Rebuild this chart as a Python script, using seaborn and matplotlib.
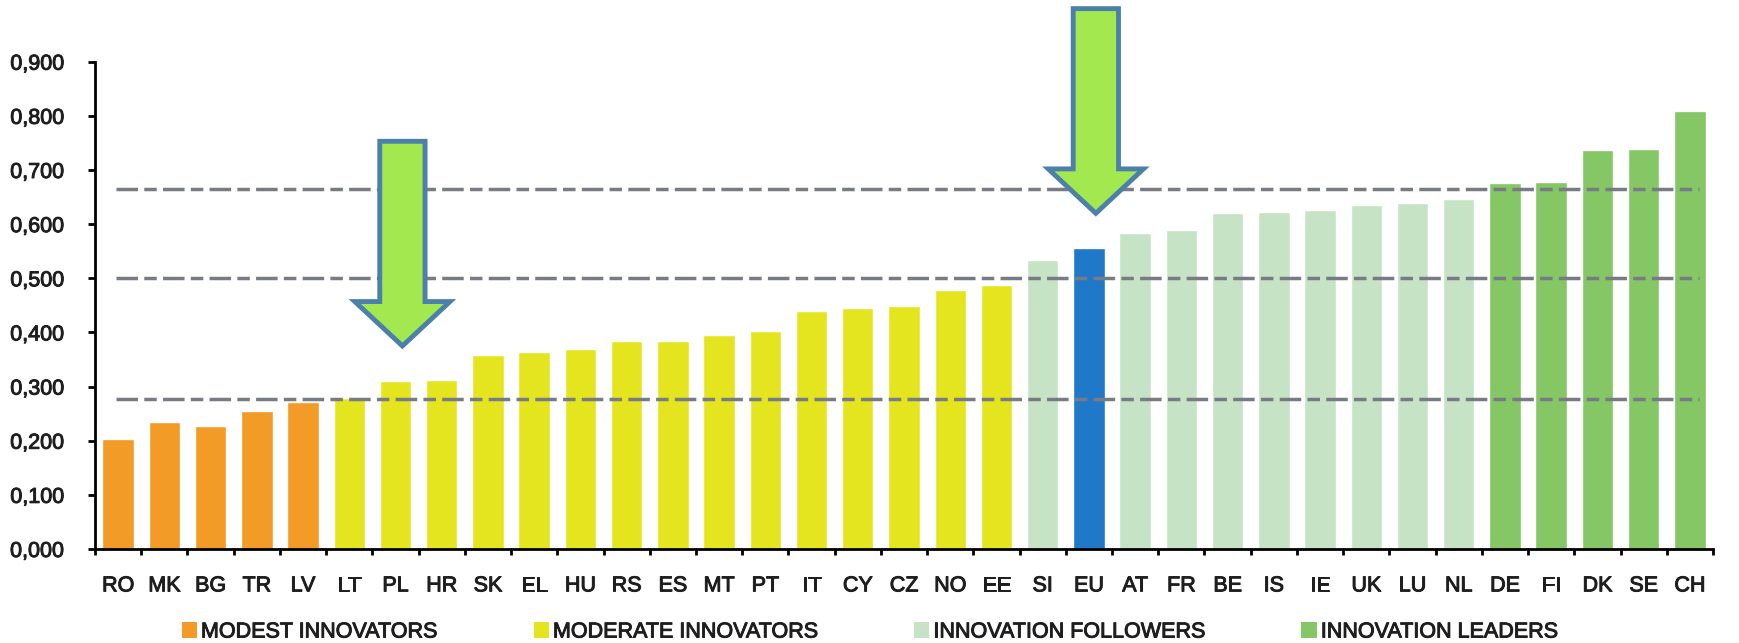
import numpy as np
import pandas as pd
import matplotlib
matplotlib.use('Agg')
import matplotlib.pyplot as plt
import matplotlib.patheffects as pe
import seaborn as sns
from matplotlib.patches import Patch, Polygon
from matplotlib.ticker import FuncFormatter, FixedLocator

# data
countries = ['RO', 'MK', 'BG', 'TR', 'LV', 'LT', 'PL', 'HR', 'SK', 'EL', 'HU', 'RS',
             'ES', 'MT', 'PT', 'IT', 'CY', 'CZ', 'NO', 'EE', 'SI', 'EU', 'AT', 'FR',
             'BE', 'IS', 'IE', 'UK', 'LU', 'NL', 'DE', 'FI', 'DK', 'SE', 'CH']
scores = [0.204, 0.234, 0.227, 0.255, 0.272, 0.279, 0.310, 0.312, 0.358, 0.363, 0.369, 0.384,
          0.384, 0.396, 0.402, 0.439, 0.445, 0.448, 0.478, 0.488, 0.533, 0.555, 0.584, 0.590,
          0.620, 0.622, 0.627, 0.636, 0.639, 0.647, 0.676, 0.678, 0.736, 0.739, 0.809]
groups = (['MODEST INNOVATORS'] * 5 + ['MODERATE INNOVATORS'] * 15 +
          ['INNOVATION FOLLOWERS'] + ['EU'] + ['INNOVATION FOLLOWERS'] * 8 +
          ['INNOVATION LEADERS'] * 5)
thresholds = [0.277, 0.500, 0.665]
arrow_targets = ['PL', 'EU']

palette = {'MODEST INNOVATORS': '#f29b27',
           'MODERATE INNOVATORS': '#e5e51f',
           'INNOVATION FOLLOWERS': '#c7e3c6',
           'EU': '#1f78c8',
           'INNOVATION LEADERS': '#84c764'}
legend_order = ['MODEST INNOVATORS', 'MODERATE INNOVATORS',
                'INNOVATION FOLLOWERS', 'INNOVATION LEADERS']

df = pd.DataFrame({'country': countries, 'score': scores, 'group': groups})

sns.set_theme(style='white')
plt.rcParams['font.family'] = ['Liberation Sans', 'DejaVu Sans']
plt.rcParams['lines.scale_dashes'] = False
txt_col = '#1e1e1e'
heavy = [pe.withStroke(linewidth=0.7, foreground=txt_col)]

fig = plt.figure(figsize=(17.39, 6.43), dpi=100)
ax = fig.add_axes([95 / 1739, 94 / 643, 1618 / 1739, 487.3 / 643])

sns.barplot(data=df, x='country', y='score', hue='group', palette=palette,
            order=countries, dodge=False, width=0.68, legend=False,
            saturation=1, ax=ax)

# threshold lines
for t in thresholds:
    ax.plot([-0.05, 34.2], [t, t], color='#777b84', lw=2.5,
            ls=(0, (15.5, 4.5, 9, 4.5)), zorder=3, solid_capstyle='butt')

ax.set_xlim(-0.5, 34.5)
ax.set_ylim(0, 0.9)
ax.set_yticks(np.arange(0, 0.901, 0.1))
ax.yaxis.set_major_formatter(FuncFormatter(lambda v, p: f'{v:.3f}'.replace('.', ',')))
ax.set_xlabel('')
ax.set_ylabel('')

for s in ['top', 'right']:
    ax.spines[s].set_visible(False)
for s in ['left', 'bottom']:
    ax.spines[s].set_color('black')
    ax.spines[s].set_linewidth(2)

ax.tick_params(axis='y', direction='out', length=5, width=2, color='black',
               labelsize=15.5, labelcolor=txt_col, pad=17, left=True)
ax.tick_params(axis='x', which='major', length=0, labelsize=15.5,
               labelcolor=txt_col, pad=19)
ax.xaxis.set_minor_locator(FixedLocator(np.arange(-0.5, 35, 1)))
ax.tick_params(axis='x', which='minor', direction='out', length=4, width=2,
               color='black', bottom=True)
for lab in ax.get_xticklabels() + ax.get_yticklabels():
    lab.set_path_effects(heavy)

# arrows pointing at PL and EU
for c in arrow_targets:
    i = countries.index(c)
    xc = i + 0.15
    tip = scores[i] + 0.065
    top = tip + 0.378
    neck = tip + 0.082
    sw, hw = 0.49, 1.03
    pts = [(xc - sw, top), (xc + sw, top), (xc + sw, neck), (xc + hw, neck),
           (xc, tip), (xc - hw, neck), (xc - sw, neck)]
    ax.add_patch(Polygon(pts, closed=True, facecolor='#a3e84f', edgecolor='#4a80aa',
                         lw=3.5, joinstyle='miter', clip_on=False, zorder=5))

handles = [Patch(facecolor=palette[g], edgecolor='none', label=g) for g in legend_order]
leg = fig.legend(handles=handles, loc='center', bbox_to_anchor=(0.5, 11 / 643), ncol=4,
                 frameon=False, fontsize=15.5, handlelength=0.7, handleheight=0.7,
                 handletextpad=0.2, columnspacing=4.5, borderpad=0, labelcolor=txt_col)
for t in leg.get_texts():
    t.set_path_effects(heavy)

fig.savefig('out.png', dpi=100)
